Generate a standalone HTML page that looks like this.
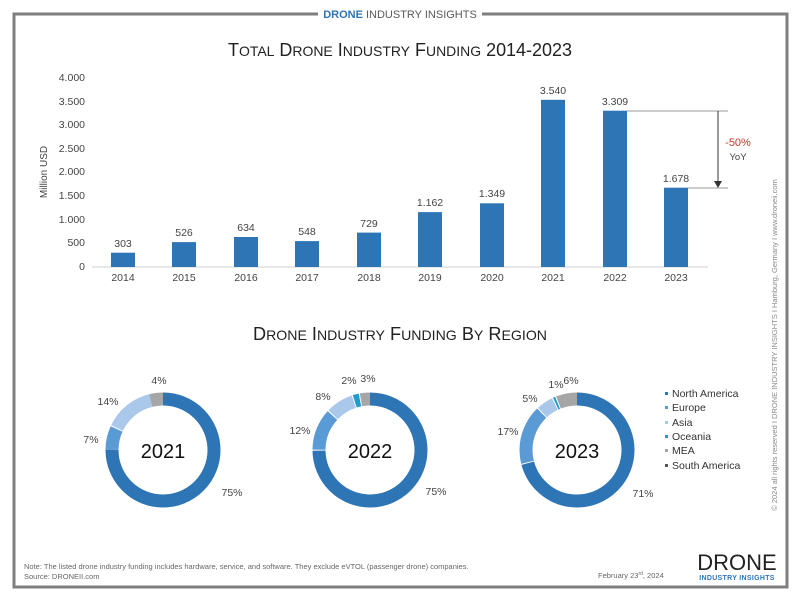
<!DOCTYPE html><html><head><meta charset="utf-8"><style>body{margin:0;background:#fff}svg{display:block;font-family:"Liberation Sans",sans-serif}</style></head><body>
<svg width="800" height="600" viewBox="0 0 800 600">
<rect x="0" y="0" width="800" height="600" fill="#fff"/>
<g stroke="#7f7f7f" stroke-width="3" fill="none">
<polyline points="318,14 14,14 14,587 787,587 787,14 482,14"/>
</g>
<text x="400" y="18" font-size="11" text-anchor="middle" fill="#595959"><tspan fill="#2e75b6" font-weight="bold">DRONE</tspan> INDUSTRY INSIGHTS</text>
<text x="400" y="56" font-size="18" text-anchor="middle" fill="#222" textLength="344" lengthAdjust="spacingAndGlyphs">T<tspan font-size="14">OTAL</tspan> D<tspan font-size="14">RONE</tspan> I<tspan font-size="14">NDUSTRY</tspan> F<tspan font-size="14">UNDING</tspan> 2014-2023</text>
<g font-size="10.5" fill="#444" text-anchor="end">
<text x="85" y="81">4.000</text><text x="85" y="105">3.500</text><text x="85" y="128">3.000</text><text x="85" y="152">2.500</text><text x="85" y="175">2.000</text><text x="85" y="199">1.500</text><text x="85" y="223">1.000</text><text x="85" y="246">500</text><text x="85" y="270">0</text>
</g>
<text transform="translate(47,172) rotate(-90)" font-size="10" fill="#444" text-anchor="middle">Million USD</text>
<line x1="92" y1="267" x2="708" y2="267" stroke="#d0d0d0"/>
<g fill="#2e75b6">
<rect x="111" y="252.7" width="24" height="14.3"/>
<rect x="172" y="242.1" width="24" height="24.9"/>
<rect x="234" y="237" width="24" height="30"/>
<rect x="295" y="241.1" width="24" height="25.9"/>
<rect x="357" y="232.6" width="24" height="34.4"/>
<rect x="418" y="212.1" width="24" height="54.9"/>
<rect x="480" y="203.3" width="24" height="63.7"/>
<rect x="541" y="99.8" width="24" height="167.2"/>
<rect x="603" y="110.7" width="24" height="156.3"/>
<rect x="664" y="187.7" width="24" height="79.3"/>
</g>
<g font-size="10.5" fill="#444" text-anchor="middle">
<text x="123" y="247">303</text><text x="184" y="236">526</text><text x="246" y="231">634</text><text x="307" y="235">548</text><text x="369" y="227">729</text><text x="430" y="206">1.162</text><text x="492" y="197">1.349</text><text x="553" y="94">3.540</text><text x="615" y="105">3.309</text><text x="676" y="182">1.678</text>
<text x="123" y="281">2014</text><text x="184" y="281">2015</text><text x="246" y="281">2016</text><text x="307" y="281">2017</text><text x="369" y="281">2018</text><text x="430" y="281">2019</text><text x="492" y="281">2020</text><text x="553" y="281">2021</text><text x="615" y="281">2022</text><text x="676" y="281">2023</text>
</g>
<line x1="627" y1="111" x2="728" y2="111" stroke="#999"/>
<line x1="688" y1="188" x2="728" y2="188" stroke="#999"/>
<line x1="718" y1="111" x2="718" y2="182" stroke="#333"/>
<polygon points="714,181 722,181 718,188" fill="#333"/>
<text x="738" y="146" font-size="11" fill="#c0392b" text-anchor="middle">-50%</text>
<text x="738" y="160" font-size="9.5" fill="#444" text-anchor="middle">YoY</text>
<text x="400" y="340" font-size="18" text-anchor="middle" fill="#222" textLength="294" lengthAdjust="spacingAndGlyphs">D<tspan font-size="14">RONE</tspan> I<tspan font-size="14">NDUSTRY</tspan> F<tspan font-size="14">UNDING</tspan> B<tspan font-size="14">Y</tspan> R<tspan font-size="14">EGION</tspan></text>
<g fill="none" stroke-width="13">
<g transform="translate(163,450) rotate(-90)">
<circle r="51" stroke="#2e75b6" stroke-dasharray="240.3 400" stroke-dashoffset="0"/>
<circle r="51" stroke="#5b9bd5" stroke-dasharray="21.4 400" stroke-dashoffset="-240.3"/>
<circle r="51" stroke="#a9c8ea" stroke-dasharray="45.9 400" stroke-dashoffset="-262.7"/>
<circle r="51" stroke="#a6a6a6" stroke-dasharray="12.4 400" stroke-dashoffset="-307.6"/>
</g>
<g transform="translate(370,450) rotate(-90)">
<circle r="51" stroke="#2e75b6" stroke-dasharray="239.3 400" stroke-dashoffset="0"/>
<circle r="51" stroke="#5b9bd5" stroke-dasharray="37.5 400" stroke-dashoffset="-240.3"/>
<circle r="51" stroke="#a9c8ea" stroke-dasharray="24.6 400" stroke-dashoffset="-278.8"/>
<circle r="51" stroke="#1f9bd0" stroke-dasharray="5.4 400" stroke-dashoffset="-304.4"/>
<circle r="51" stroke="#a6a6a6" stroke-dasharray="9.6 400" stroke-dashoffset="-310.8"/>
</g>
<g transform="translate(577,450) rotate(-90)">
<circle r="51" stroke="#2e75b6" stroke-dasharray="226.5 400" stroke-dashoffset="0"/>
<circle r="51" stroke="#5b9bd5" stroke-dasharray="53.5 400" stroke-dashoffset="-227.5"/>
<circle r="51" stroke="#a9c8ea" stroke-dasharray="15 400" stroke-dashoffset="-282"/>
<circle r="51" stroke="#1f9bd0" stroke-dasharray="2 400" stroke-dashoffset="-298"/>
<circle r="51" stroke="#a6a6a6" stroke-dasharray="19 400" stroke-dashoffset="-301"/>
</g>
</g>
<g font-size="20" fill="#111" text-anchor="middle">
<text x="163" y="458">2021</text><text x="370" y="458">2022</text><text x="577" y="458">2023</text>
</g>
<g font-size="10.5" fill="#444" text-anchor="middle">
<text x="159" y="384">4%</text><text x="108" y="405">14%</text><text x="91" y="443">7%</text><text x="232" y="496">75%</text>
<text x="349" y="384">2%</text><text x="368" y="382">3%</text><text x="323" y="400">8%</text><text x="300" y="434">12%</text><text x="436" y="495">75%</text>
<text x="556" y="388">1%</text><text x="571" y="384">6%</text><text x="530" y="402">5%</text><text x="508" y="435">17%</text><text x="643" y="497">71%</text>
</g>
<g font-size="10.5" fill="#333">
<text x="672" y="397">North America</text><text x="672" y="411">Europe</text><text x="672" y="426">Asia</text><text x="672" y="440">Oceania</text><text x="672" y="454">MEA</text><text x="672" y="469">South America</text>
</g>
<g>
<rect x="665" y="392" width="3" height="3" fill="#2e75b6"/><rect x="665" y="406" width="3" height="3" fill="#5b9bd5"/><rect x="665" y="421" width="3" height="3" fill="#a9c8ea"/><rect x="665" y="435" width="3" height="3" fill="#1f9bd0"/><rect x="665" y="449" width="3" height="3" fill="#a6a6a6"/><rect x="665" y="464" width="3" height="3" fill="#555"/>
</g>
<text transform="translate(777,345) rotate(-90)" font-size="7.5" fill="#888" text-anchor="middle">© 2024 all rights reserved  I  DRONE INDUSTRY INSIGHTS  I  Hamburg, Germany  I  www.droneii.com</text>
<text x="24" y="569" font-size="7.5" fill="#666">Note: The listed drone industry funding includes hardware, service, and software. They exclude eVTOL (passenger drone) companies.</text>
<text x="24" y="579" font-size="7.5" fill="#666">Source: DRONEII.com</text>
<text x="598" y="578" font-size="7.5" fill="#666">February 23<tspan font-size="5" dy="-3">rd</tspan><tspan dy="3">, 2024</tspan></text>
<text x="737" y="570" font-size="22" fill="#222" text-anchor="middle">DRONE</text>
<text x="737" y="580" font-size="7" fill="#2e75b6" text-anchor="middle" font-weight="bold" letter-spacing="0.3">INDUSTRY INSIGHTS</text>
</svg>
</body></html>
